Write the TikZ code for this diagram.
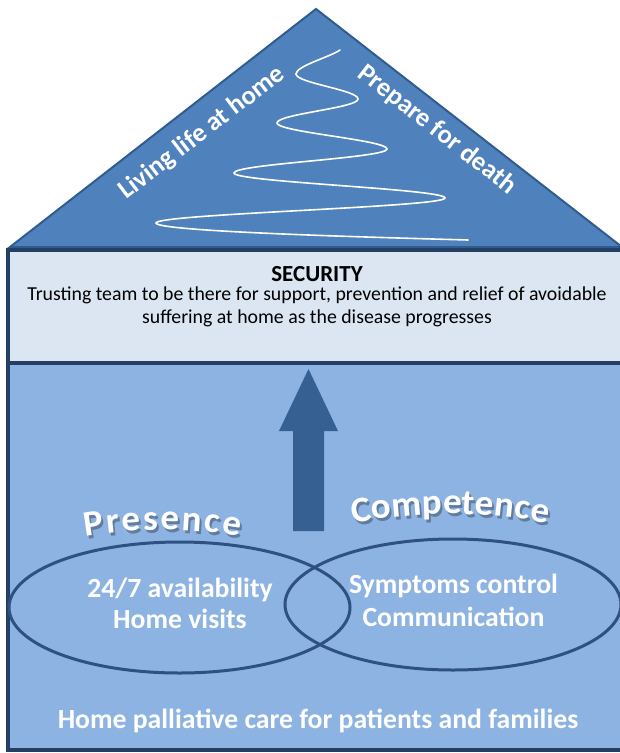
\documentclass[tikz,border=0pt]{standalone}
\usepackage{fontspec}
\setmainfont{Carlito}
\definecolor{rooffill}{HTML}{4F81BD}
\definecolor{roofline}{HTML}{2E5C8E}
\definecolor{secfill}{HTML}{DCE6F2}
\definecolor{boxline}{HTML}{233F62}
\definecolor{lowfill}{HTML}{8DB3E2}
\definecolor{arrowfill}{HTML}{376092}
\definecolor{ellline}{HTML}{2E5180}
\begin{document}
\begin{tikzpicture}[x=1pt,y=1pt,
  roofshape/.style={fill=rooffill, draw=roofline, line width=2pt, line join=miter},
  boxshape/.style={draw=boxline, line width=3.5pt},
  rooftext/.style={text=white, font=\fontsize{26.5}{30}\selectfont\bfseries, inner sep=0pt},
  sectitle/.style={font=\fontsize{23}{27}\selectfont\bfseries, inner sep=0pt, anchor=base},
  sectext/.style={font=\fontsize{19.8}{23}\selectfont, inner sep=0pt, anchor=base},
  whitetext/.style={text=white, font=\fontsize{27.7}{32}\selectfont\bfseries, inner sep=0pt, anchor=base},
  arcletter/.style={text=white, font=\fontsize{36}{38}\selectfont\bfseries, inner sep=0pt, anchor=base},
  arcshadow/.style={text=black, opacity=0.3, font=\fontsize{36}{38}\selectfont\bfseries, inner sep=0pt, anchor=base},
  snake/.style={draw=white, line width=1.6pt, line cap=round},
  ellshape/.style={draw=ellline, line width=3pt}]
\useasboundingbox (0,0) rectangle (620,-753);
% lower box
\path[fill=lowfill, boxshape] (8,-363) rectangle (640,-750);
% roof
\path[roofshape] (10,-247) -- (316,-9) -- (622,-247) -- cycle;
% security box
\path[fill=secfill, boxshape] (8,-250) rectangle (640,-363);
% roof zigzag line
\draw[snake] (340,-50) .. controls (330,-57) and (296,-66) .. (296,-74)
  .. controls (296,-83) and (358,-90) .. (358,-99)
  .. controls (358,-108) and (277,-114) .. (277,-123)
  .. controls (277,-132) and (387,-140) .. (387,-149)
  .. controls (387,-158) and (234,-164) .. (234,-173)
  .. controls (234,-182) and (445,-189) .. (445,-198)
  .. controls (445,-207) and (156,-214) .. (156,-223)
  .. controls (156,-232) and (400,-238) .. (468,-240);
% roof texts
\node[rooftext, rotate=37.5] (living) at (202,-133) {Living life at home};
\node[rooftext, rotate=-38] (prepare) at (437,-130) {Prepare for death};
% security texts
\node[sectitle] (security) at (317,-281) {SECURITY};
\node[sectext] (sec1) at (317,-300) {Trusting team to be there for support, prevention and relief of avoidable};
\node[sectext] (sec2) at (317,-323) {suffering at home as the disease progresses};
% arrow
\path[fill=arrowfill] (308.5,-369) -- (338,-431) -- (324,-431) -- (324,-531) -- (293,-531) -- (293,-431) -- (279,-431) -- cycle;
% ellipses
\draw[ellshape] (179.5,-607.5) ellipse [x radius=170.5, y radius=65.5];
\draw[ellshape] (453,-604.5) ellipse [x radius=168, y radius=65.5];
% arched words
\foreach \l/\d [count=\i] in {P/-67.63, r/-48.91, e/-30.72, s/-11.71, e/7.3, n/28.87, c/48.86, e/68.22} {
  \pgfmathsetmacro{\ang}{\d/450*57.2958}
  \node[arcshadow, rotate=-\ang, xscale=1.03] (presS\i) at ({164.5+450*sin(\ang)}, {-533-450*(1-cos(\ang))}) {\l};
  \node[arcletter, rotate=-\ang, xscale=1.03] (pres\i) at ({162.5+450*sin(\ang)}, {-530-450*(1-cos(\ang))}) {\l};
}
\foreach \l/\d [count=\i] in {C/-87.78, o/-67.86, m/-42.71, p/-17.58, e/1.85, t/17.79, e/33.73, n/53.16, c/71.02, e/88.26} {
  \pgfmathsetmacro{\ang}{\d/500*57.2958}
  \node[arcshadow, rotate=-\ang, xscale=1.03] (compS\i) at ({452.5+500*sin(\ang)}, {-517-500*(1-cos(\ang))}) {\l};
  \node[arcletter, rotate=-\ang, xscale=1.03] (comp\i) at ({450.5+500*sin(\ang)}, {-514-500*(1-cos(\ang))}) {\l};
}
% ellipse texts
\node[whitetext] (avail) at (180,-597) {24/7 availability};
\node[whitetext] (visits) at (180,-628) {Home visits};
\node[whitetext] (symptoms) at (453.5,-593) {Symptoms control};
\node[whitetext] (commun) at (453.5,-626) {Communication};
\node[whitetext] (home) at (318,-728) {Home palliative care for patients and families};
\end{tikzpicture}
\end{document}
